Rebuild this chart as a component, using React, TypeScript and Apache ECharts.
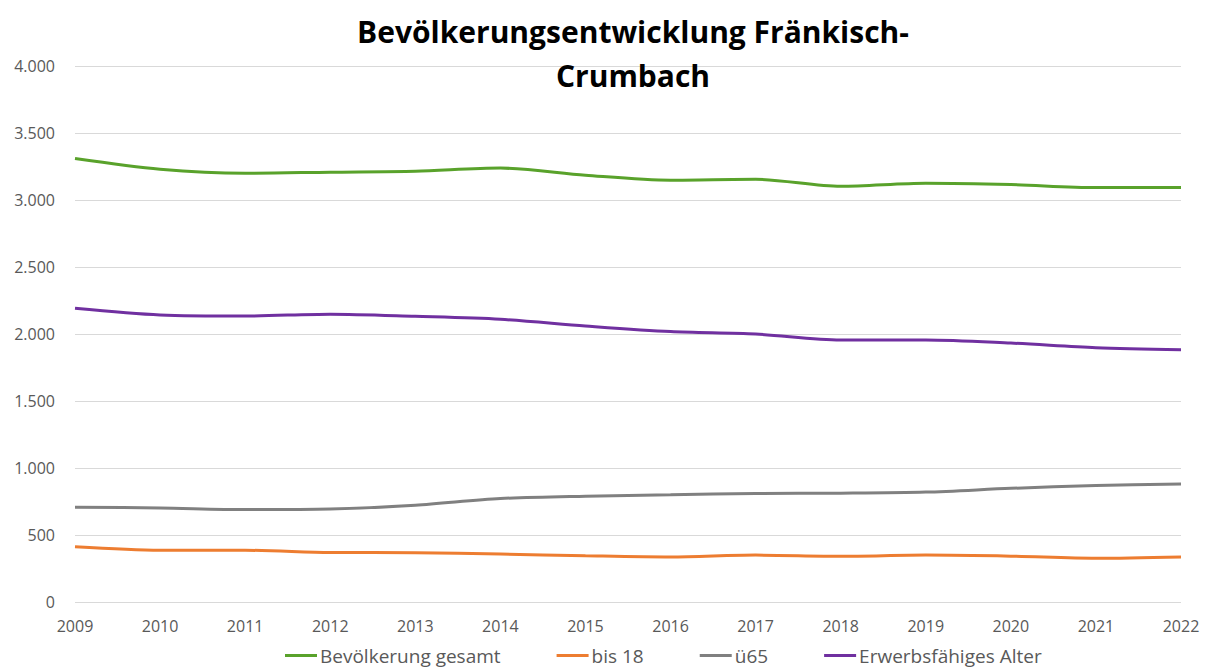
import React, { useEffect, useRef } from "react";
import * as echarts from "echarts";

const years = ["2009","2010","2011","2012","2013","2014","2015","2016","2017","2018","2019","2020","2021","2022"];
const gesamt = [3310, 3230, 3200, 3208, 3215, 3238, 3185, 3148, 3155, 3102, 3125, 3115, 3093, 3093];
const bis18 = [412, 386, 386, 370, 368, 358, 345, 336, 350, 342, 350, 342, 326, 336];
const ue65 = [708, 702, 690, 694, 722, 772, 790, 800, 810, 812, 820, 848, 870, 880];
const erwerb = [2192, 2142, 2134, 2148, 2132, 2110, 2060, 2018, 2000, 1955, 1955, 1932, 1898, 1882];

const seriesNames = ["Bevölkerung gesamt", "bis 18", "ü65", "Erwerbsfähiges Alter"];
const colors = ["#59A22B", "#ED7D31", "#808080", "#7030A0"];

export default function App() {
  const ref = useRef<HTMLDivElement>(null);
  useEffect(() => {
    const chart = echarts.init(ref.current!, null, { renderer: "svg" });
    const font = "Open Sans, sans-serif";
    const data = [gesamt, bis18, ue65, erwerb];
    chart.setOption({
      animation: false,
      title: {
        text: "Bevölkerungsentwicklung Fränkisch-\nCrumbach",
        left: 628,
        textAlign: "center",
        top: 4,
        textStyle: { fontFamily: font, fontWeight: "bold", fontSize: 30, color: "#000", lineHeight: 44 },
      },
      grid: { left: 75, right: 28, top: 66, bottom: 65, containLabel: false },
      legend: {
        bottom: -3,
        left: 280,
        itemWidth: 32,
        itemHeight: 3,
        itemGap: 56,
        icon: "rect",
        textStyle: { fontFamily: font, fontSize: 19, color: "#595959", padding: [0, 0, 0, -2] },
        data: seriesNames,
      },
      xAxis: {
        type: "category",
        data: years,
        boundaryGap: false,
        axisLine: { show: false },
        axisTick: { show: false },
        axisLabel: { fontFamily: font, fontSize: 16, color: "#595959", margin: 16 },
      },
      yAxis: {
        type: "value",
        min: 0,
        max: 4000,
        interval: 500,
        axisLabel: {
          fontFamily: font,
          fontSize: 16,
          color: "#595959",
          margin: 20,
          formatter: (v: number) => v.toLocaleString("de-DE"),
        },
        splitLine: { lineStyle: { color: "#D9D9D9", width: 1 } },
      },
      series: seriesNames.map((n, i) => ({
        name: n,
        type: "line",
        data: data[i],
        smooth: 0.3,
        showSymbol: false,
        symbol: "none",
        color: colors[i],
        lineStyle: { width: 3, color: colors[i] },
      })),
    });
    return () => chart.dispose();
  }, []);
  return <div ref={ref} style={{ width: 1209, height: 667, position: "absolute", left: 0, top: 0 }} />;
}
